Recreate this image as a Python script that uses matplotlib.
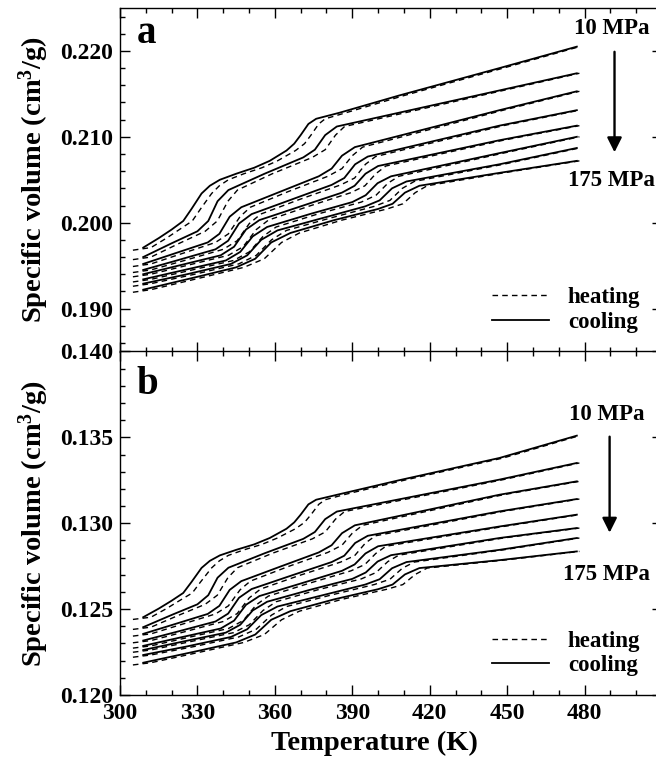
import matplotlib
matplotlib.use('Agg')
import matplotlib.pyplot as plt
from matplotlib.ticker import MultipleLocator, FormatStrFormatter
from matplotlib.lines import Line2D

plt.rcParams['font.family'] = ['Liberation Serif', 'DejaVu Serif']
plt.rcParams['font.weight'] = 'bold'
plt.rcParams['mathtext.fontset'] = 'custom'
plt.rcParams['mathtext.rm'] = 'Liberation Serif:bold'
plt.rcParams['mathtext.default'] = 'rm'

# ---------------- data ----------------
pressures = [10, 25, 50, 75, 100, 125, 150, 175]  # MPa

# temperatures (K) of the cooling curves (shared by panels a and b)
a_T_cool = [
    [309, 315, 320, 324.5, 327.7, 331.6, 334.8, 338.7, 345, 352, 358, 364.5, 367.5, 370, 373, 376, 385, 408, 447, 477],
    [309, 320, 330, 334.2, 337.8, 342, 356, 371, 375.5, 379.5, 384, 447, 477],
    [309, 320, 334, 338.5, 342.5, 347, 362, 377, 382, 386, 391, 447, 477],
    [309, 322, 337, 341.9, 346.1, 351, 366.5, 382, 386.9, 391.1, 396, 447, 477],
    [309, 324, 339, 344.2, 348.8, 354, 370, 386, 390.9, 395.1, 400, 447, 477],
    [309, 325, 341, 346.6, 351.4, 357, 373.5, 390, 395.2, 399.8, 405, 447, 477],
    [309, 326, 343, 349.3, 354.7, 361, 378, 395, 400.6, 405.4, 411, 447, 477],
    [309, 330, 345, 352.4, 358.6, 366, 383, 400, 405.6, 410.4, 416, 447, 477],
]
# temperatures (K) of the heating curves
a_T_heat = [
    [305, 312, 318, 323, 328, 331.2, 335.5, 338.5, 342, 348, 355, 361, 368, 371.5, 374, 377, 379.5, 387.5, 410, 448.5, 478],
    [305, 312, 323, 333, 337.7, 341.8, 345.5, 359, 374.5, 379.5, 383.5, 387, 448.5, 478],
    [305, 312, 323, 337, 342, 346.5, 350.5, 365, 380.5, 386, 390, 394, 448.5, 478],
    [305, 312, 325, 340, 345.4, 350.1, 354.5, 369.5, 385.5, 390.9, 395.1, 399, 448.5, 478],
    [305, 312, 327, 342, 347.7, 352.8, 357.5, 373, 389.5, 394.9, 399.1, 403, 448.5, 478],
    [305, 312, 328, 344, 350.1, 355.4, 360.5, 376.5, 393.5, 399.2, 403.8, 408, 448.5, 478],
    [305, 312, 329, 346, 352.8, 358.7, 364.5, 381, 398.5, 404.6, 409.4, 414, 448.5, 478],
    [305, 312, 333, 348, 355.9, 362.6, 369.5, 386, 403.5, 409.6, 414.4, 419, 448.5, 478],
]
b_T_cool = a_T_cool
b_T_heat = a_T_heat

# panel a: specific volume (cm3/g)
a_V_cool = [
    [.1971, .1982, .1992, .2002, .2016, .2034, .2043, .2050, .2057, .2064, .2072, .2084, .2092, .2102, .2115, .2121, .2128, .2148, .2180, .2205],
    [.1960, .1976, .1990, .2002, .2025, .2038, .2057, .2076, .2085, .2102, .2112, .2154, .2174],
    [.1952, .1963, .1977, .1987, .2007, .2018, .2036, .2054, .2063, .2078, .2088, .2131, .2153],
    [.1945, .1956, .1969, .1979, .1999, .2010, .2027, .2044, .2052, .2068, .2077, .2113, .2131],
    [.1940, .1951, .1962, .1972, .1992, .2003, .2019, .2035, .2043, .2057, .2066, .2096, .2113],
    [.1934, .1945, .1956, .1966, .1984, .1995, .2010, .2024, .2032, .2046, .2054, .2081, .2100],
    [.1929, .1940, .1952, .1962, .1980, .1991, .2005, .2019, .2026, .2040, .2048, .2068, .2087],
    [.1922, .1937, .1948, .1958, .1977, .1988, .2003, .2016, .2022, .2035, .2043, .2058, .2072],
]
a_V_heat = [
    [.1968, .1971, .1982, .1992, .2002, .2016, .2034, .2043, .2050, .2057, .2064, .2072, .2084, .2092, .2102, .2115, .2121, .2128, .2148, .2180, .2205],
    [.1957, .1960, .1976, .1990, .2002, .2025, .2038, .2057, .2076, .2085, .2102, .2112, .2154, .2174],
    [.1949, .1952, .1963, .1977, .1987, .2007, .2018, .2036, .2054, .2063, .2078, .2088, .2131, .2153],
    [.1942, .1945, .1956, .1969, .1979, .1999, .2010, .2027, .2044, .2052, .2068, .2077, .2113, .2131],
    [.1937, .1940, .1951, .1962, .1972, .1992, .2003, .2019, .2035, .2043, .2057, .2066, .2096, .2113],
    [.1931, .1934, .1945, .1956, .1966, .1984, .1995, .2010, .2024, .2032, .2046, .2054, .2081, .2100],
    [.1926, .1929, .1940, .1952, .1962, .1980, .1991, .2005, .2019, .2026, .2040, .2048, .2068, .2087],
    [.1919, .1922, .1937, .1948, .1958, .1977, .1988, .2003, .2016, .2022, .2035, .2043, .2058, .2072],
]

# panel b: specific volume (cm3/g)
b_V_cool = [
    [.12453, .12503, .12549, .12594, .12658, .12740, .12781, .12813, .12845, .12877, .12914, .12968, .13005, .13050, .13110, .13137, .13169, .13250, .13380, .13510],
    [.12395, .12466, .12528, .12581, .12683, .12741, .12825, .12909, .12949, .13024, .13068, .13254, .13351],
    [.12356, .12407, .12472, .12519, .12612, .12663, .12747, .12830, .12872, .12942, .12988, .13166, .13244],
    [.12317, .12368, .12428, .12474, .12566, .12617, .12696, .12774, .12811, .12885, .12927, .13069, .13141],
    [.12286, .12337, .12387, .12433, .12525, .12576, .12649, .12723, .12760, .12824, .12866, .12981, .13050],
    [.12262, .12313, .12363, .12409, .12492, .12543, .12612, .12676, .12713, .12777, .12814, .12914, .12972],
    [.12233, .12283, .12338, .12383, .12465, .12515, .12579, .12643, .12674, .12738, .12774, .12845, .12914],
    [.12188, .12256, .12306, .12352, .12438, .12488, .12557, .12616, .12643, .12702, .12739, .12785, .12836],
]
b_V_heat = [
    [.12440, .12453, .12503, .12549, .12594, .12658, .12740, .12781, .12813, .12845, .12877, .12914, .12968, .13005, .13050, .13110, .13137, .13169, .13250, .13380, .13510],
    [.12382, .12395, .12466, .12528, .12581, .12683, .12741, .12825, .12909, .12949, .13024, .13068, .13254, .13351],
    [.12343, .12356, .12407, .12472, .12519, .12612, .12663, .12747, .12830, .12872, .12942, .12988, .13166, .13244],
    [.12304, .12317, .12368, .12428, .12474, .12566, .12617, .12696, .12774, .12811, .12885, .12927, .13069, .13141],
    [.12273, .12286, .12337, .12387, .12433, .12525, .12576, .12649, .12723, .12760, .12824, .12866, .12981, .13050],
    [.12249, .12262, .12313, .12363, .12409, .12492, .12543, .12612, .12676, .12713, .12777, .12814, .12914, .12972],
    [.12220, .12233, .12283, .12338, .12383, .12465, .12515, .12579, .12643, .12674, .12738, .12774, .12845, .12914],
    [.12175, .12188, .12256, .12306, .12352, .12438, .12488, .12557, .12616, .12643, .12702, .12739, .12785, .12836],
]

x_ticks = [300, 330, 360, 390, 420, 450, 480]
legend_labels = ['heating', 'cooling']
panel_labels = ['a', 'b']

# ---------------- figure ----------------
fig = plt.figure(figsize=(6.56, 7.62), dpi=100)
axA = fig.add_axes([0.18293, 0.53871, 0.82622, 0.45079])
axB = fig.add_axes([0.18293, 0.08793, 0.82622, 0.45079])

dash = (0, (4, 3))
for ax, Tc, Vc, Th, Vh in [(axA, a_T_cool, a_V_cool, a_T_heat, a_V_heat),
                           (axB, b_T_cool, b_V_cool, b_T_heat, b_V_heat)]:
    for k in range(len(pressures)):
        ax.plot(Th[k], Vh[k], color='k', lw=1.0, linestyle=dash)
        ax.plot(Tc[k], Vc[k], color='k', lw=1.3, linestyle='-')
    ax.set_xlim(300, 510)
    ax.xaxis.set_major_locator(MultipleLocator(30))
    ax.xaxis.set_minor_locator(MultipleLocator(10))
    ax.set_xticks(x_ticks)
    ax.tick_params(which='both', direction='in', top=True, right=True, width=1)
    ax.tick_params(which='major', length=7, labelsize=17, pad=5)
    ax.tick_params(which='minor', length=3.5)
    ax.yaxis.set_major_formatter(FormatStrFormatter('%.3f'))
    for sp in ax.spines.values():
        sp.set_linewidth(1.0)
    handles = [Line2D([], [], color='k', lw=1.0, linestyle=dash),
               Line2D([], [], color='k', lw=1.3)]
    ax.legend(handles, legend_labels, loc='lower right', bbox_to_anchor=(0.96, 0.055),
              frameon=False, fontsize=16.5, handlelength=2.5, handletextpad=0.8,
              labelspacing=0.15, borderpad=0, borderaxespad=0)
    ax.set_ylabel('Specific volume (cm$^3$/g)', fontsize=20.5, fontweight='bold')
    ax.yaxis.set_label_coords(-0.128, 0.5)

axA.set_ylim(0.185, 0.225)
axA.yaxis.set_major_locator(MultipleLocator(0.01))
axA.yaxis.set_minor_locator(MultipleLocator(0.002))
axA.tick_params(axis='x', labelbottom=False)

axB.set_ylim(0.120, 0.140)
axB.yaxis.set_major_locator(MultipleLocator(0.005))
axB.yaxis.set_minor_locator(MultipleLocator(0.001))
axB.tick_params(axis='x', pad=6)
axB.set_xlabel('Temperature (K)', fontsize=20.5, fontweight='bold')
axB.xaxis.set_label_coords(0.47, -0.104)

axA.text(0.031, 0.898, panel_labels[0], transform=axA.transAxes, fontsize=28,
         fontweight='bold', va='baseline')
axB.text(0.031, 0.877, panel_labels[1], transform=axB.transAxes, fontsize=28,
         fontweight='bold', va='baseline')

top_lab = f'{pressures[0]} MPa'
bot_lab = f'{pressures[-1]} MPa'
arrow_kw = dict(arrowstyle='-|>', lw=1.7, color='k', mutation_scale=22, shrinkA=0, shrinkB=0)

axA.text(490.5, 0.22262, top_lab, ha='center', va='center', fontsize=16.5, fontweight='bold')
axA.annotate('', xy=(491.6, 0.2082), xytext=(491.6, 0.2199), arrowprops=arrow_kw)
axA.text(490.5, 0.2049, bot_lab, ha='center', va='center', fontsize=16.5, fontweight='bold')

axB.text(488.7, 0.13633, top_lab, ha='center', va='center', fontsize=16.5, fontweight='bold')
axB.annotate('', xy=(489.7, 0.12945), xytext=(489.7, 0.13504), arrowprops=arrow_kw)
axB.text(488.5, 0.12700, bot_lab, ha='center', va='center', fontsize=16.5, fontweight='bold')

fig.savefig('out.png', dpi=100)
